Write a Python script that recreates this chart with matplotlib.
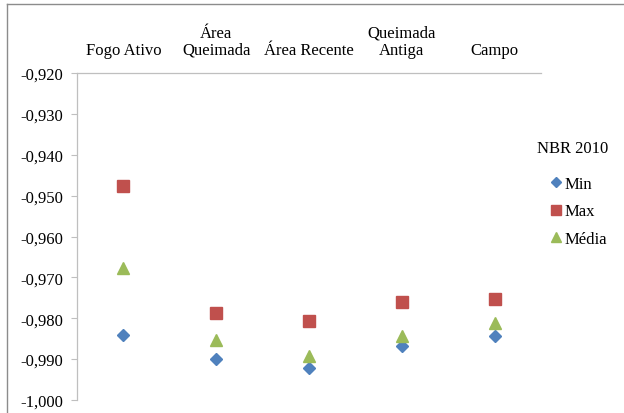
import matplotlib
matplotlib.use("Agg")
import matplotlib.pyplot as plt
from matplotlib.lines import Line2D
from matplotlib.ticker import FuncFormatter

categories = ["Fogo Ativo", "Área\nQueimada", "Área Recente", "Queimada\nAntiga", "Campo"]
nbr_min = [-0.9840, -0.9900, -0.9922, -0.9868, -0.9843]
nbr_max = [-0.9477, -0.9787, -0.9807, -0.9761, -0.9754]
nbr_media = [-0.9678, -0.9853, -0.9893, -0.9843, -0.9812]
y_ticks = [-1.000, -0.990, -0.980, -0.970, -0.960, -0.950, -0.940, -0.930, -0.920]

plt.rcParams['font.family'] = ['Liberation Serif', 'DejaVu Serif']
FS = 12

W, H = 624, 414
fig = plt.figure(figsize=(W / 100, H / 100), dpi=100)
ax = fig.add_axes([77 / W, 1 - 401 / H, (541 - 77) / W, (401 - 74) / H])

x = range(len(categories))
ax.plot(x, nbr_min, linestyle='none', marker='D', markersize=6.4,
        color='#4F81BD', label='Min')
ax.plot(x, nbr_max, linestyle='none', marker='s', markersize=8.2,
        color='#C0504D', label='Max')
ax.plot(x, nbr_media, linestyle='none', marker='^', markersize=8.8,
        color='#9BBB59', label='Média')

ax.set_xlim(-0.5, len(categories) - 0.5)
ax.set_ylim(-1.000, -0.920)
ax.set_yticks(y_ticks)
ax.yaxis.set_major_formatter(FuncFormatter(lambda v, p: f"{v:.3f}".replace('.', ',')))

ax.xaxis.tick_top()
ax.set_xticks(list(x))
ax.set_xticklabels(categories, fontsize=FS, linespacing=1.1)
ax.tick_params(axis='x', length=0, pad=11)
ax.tick_params(axis='y', length=4, width=0.8, color='#BFBFBF', labelsize=FS, pad=6)

for side in ('right', 'bottom'):
    ax.spines[side].set_visible(False)
for side in ('left', 'top'):
    ax.spines[side].set_color('#BFBFBF')
    ax.spines[side].set_linewidth(0.9)

# legend: title plus entries
fig.text(573 / W, 1 - 149 / H, 'NBR 2010', ha='center', va='center', fontsize=FS)
ax.legend(loc='upper left', bbox_to_anchor=(548 / W, 1 - 177 / H),
          bbox_transform=fig.transFigure, frameon=False, fontsize=FS,
          borderpad=0, borderaxespad=0, handletextpad=0.0, handlelength=1.0,
          labelspacing=0.68, markerscale=0.85)

# outer chart frame
fig.add_artist(Line2D([7 / W, 7 / W], [0, 1 - 5 / H], transform=fig.transFigure,
                      color='#8C8C8C', linewidth=1.0))
fig.add_artist(Line2D([7 / W, 1], [1 - 5 / H, 1 - 5 / H], transform=fig.transFigure,
                      color='#8C8C8C', linewidth=1.0))

fig.savefig("out.png", dpi=100)
